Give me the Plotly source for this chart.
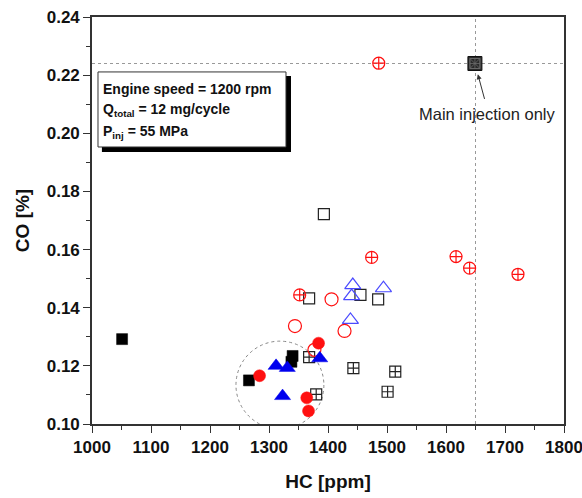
import plotly.graph_objects as go

# ---- data ----
filled_sq_x = [1051, 1266, 1340, 1338]
filled_sq_y = [0.1292, 0.1150, 0.1234, 0.1214]

filled_circ_x = [1284, 1384, 1364, 1367]
filled_circ_y = [0.1166, 0.1278, 0.1090, 0.1045]

filled_tri_x = [1312, 1331, 1323, 1386]
filled_tri_y = [0.1200, 0.1193, 0.1096, 0.1226]

open_sq_x = [1368, 1455, 1485, 1393]
open_sq_y = [0.1432, 0.1444, 0.1429, 0.1722]

cross_sq_x = [1368, 1443, 1514, 1501, 1380]
cross_sq_y = [0.1230, 0.1192, 0.1180, 0.1111, 0.1102]

open_circ_x = [1406, 1344, 1428, 1377]
open_circ_y = [0.1429, 0.1337, 0.1320, 0.1255]

cross_circ_x = [1352, 1474, 1617, 1640, 1722, 1486]
cross_circ_y = [0.1444, 0.1573, 0.1576, 0.1536, 0.1515, 0.2241]

open_tri_x = [1442, 1440, 1494, 1438]
open_tri_y = [0.1478, 0.1440, 0.1467, 0.1358]

main_x = [1649]
main_y = [0.2240]

x_ticks = [1000, 1100, 1200, 1300, 1400, 1500, 1600, 1700, 1800]
y_ticks = [0.10, 0.12, 0.14, 0.16, 0.18, 0.20, 0.22, 0.24]

FONT = "Liberation Sans, Arial, sans-serif"
RED = "#ff1010"
BLUE = "#0000ee"
LBLUE = "#4a4aff"

fig = go.Figure()

def add(x, y, symbol, color, size, lw=1.2, fill=None):
    fig.add_trace(go.Scatter(
        x=x, y=y, mode="markers", showlegend=False, cliponaxis=False,
        marker=dict(symbol=symbol, size=size, color=fill if fill else color,
                    line=dict(color=color, width=lw))))

add(open_sq_x, open_sq_y, "square-open", "#222222", 11)
add(cross_sq_x, cross_sq_y, "square-cross-open", "#222222", 11)
add(cross_circ_x, cross_circ_y, "circle-cross-open", RED, 12)
add(open_tri_x, open_tri_y, "triangle-up-open", LBLUE, 14)
add(filled_sq_x, filled_sq_y, "square", "#000000", 11, lw=0.5)
add(filled_circ_x, filled_circ_y, "circle", RED, 12, lw=0.5)
add(open_circ_x, open_circ_y, "circle-open", RED, 13)
add(filled_tri_x, filled_tri_y, "triangle-up", BLUE, 14, lw=0.5)
add(main_x, main_y, "square", "#111111", 14, lw=1, fill="#2a2a2a")
add(main_x, main_y, "square-x-open", "#6a6a6a", 10, lw=0.8)
add(main_x, main_y, "square-cross-open", "#6a6a6a", 10, lw=0.8)

shapes = [
    dict(type="line", xref="x", yref="paper", x0=1650, x1=1650, y0=0, y1=1,
         line=dict(color="#999999", width=1, dash="dot"), layer="below"),
    dict(type="line", xref="paper", yref="y", x0=0, x1=1, y0=0.224, y1=0.224,
         line=dict(color="#999999", width=1, dash="dot"), layer="below"),
    dict(type="circle", xref="x", yref="y", x0=1244, x1=1393, y0=0.0983, y1=0.1285,
         line=dict(color="#888888", width=1, dash="dot"), layer="below"),
    # text box with shadow
    dict(type="rect", xref="paper", yref="paper", x0=0.021, x1=0.4216, y0=0.668, y1=0.855,
         fillcolor="#000000", line=dict(width=0)),
    dict(type="rect", xref="paper", yref="paper", x0=0.0127, x1=0.411, y0=0.6806, y1=0.865,
         fillcolor="#ffffff", line=dict(color="#333333", width=1)),
]

annotations = [
    dict(xref="paper", yref="paper", x=0.02, y=0.822, xanchor="left", yanchor="middle",
         text="<b>Engine speed = 1200 rpm</b>", showarrow=False,
         font=dict(family=FONT, size=14, color="#111111")),
    dict(xref="paper", yref="paper", x=0.02, y=0.772, xanchor="left", yanchor="middle",
         text="<b>Q<sub>total</sub> = 12 mg/cycle</b>", showarrow=False,
         font=dict(family=FONT, size=14, color="#111111")),
    dict(xref="paper", yref="paper", x=0.02, y=0.717, xanchor="left", yanchor="middle",
         text="<b>P<sub>inj</sub> = 55 MPa</b>", showarrow=False,
         font=dict(family=FONT, size=14, color="#111111")),
    dict(x=1654, y=0.2203, ax=1666, ay=0.2113, xref="x", yref="y", axref="x", ayref="y",
         text="", showarrow=True, arrowhead=2, arrowsize=1, arrowwidth=1, arrowcolor="#333333"),
    dict(x=1670, y=0.2067, xref="x", yref="y", text="Main injection only", showarrow=False,
         font=dict(family=FONT, size=16.5, color="#222222")),
]

fig.update_layout(
    width=582, height=498,
    margin=dict(l=92, r=18, t=17, b=74, autoexpand=False),
    plot_bgcolor="white", paper_bgcolor="white",
    shapes=shapes, annotations=annotations,
    font=dict(family=FONT, color="#111111"),
)

fig.update_xaxes(
    range=[1000, 1800], tickvals=x_ticks, ticktext=[f"<b>{v}</b>" for v in x_ticks],
    ticks="outside", ticklen=7, tickwidth=1.3, tickcolor="#333333",
    minor=dict(dtick=50, ticks="outside", ticklen=4, tickcolor="#333333", tickwidth=1.2, showgrid=False),
    showline=True, linecolor="#333333", linewidth=1.6, mirror=True, showgrid=False, zeroline=False,
    tickfont=dict(family=FONT, size=17, color="#111111"), automargin=False,
    ticklabeloverflow="allow",
    title=dict(text="<b>HC [ppm]</b>", font=dict(family=FONT, size=19, color="#111111"), standoff=18),
)
fig.update_yaxes(
    range=[0.10, 0.24], tickvals=y_ticks, ticktext=[f"<b>{v:.2f}</b>" for v in y_ticks],
    ticks="outside", ticklen=7, tickwidth=1.3, tickcolor="#333333",
    minor=dict(dtick=0.01, ticks="outside", ticklen=4, tickcolor="#333333", tickwidth=1.2, showgrid=False),
    showline=True, linecolor="#333333", linewidth=1.6, mirror=True, showgrid=False, zeroline=False,
    tickfont=dict(family=FONT, size=17, color="#111111"), automargin=False,
    ticklabeloverflow="allow",
    title=dict(text="<b>CO [%]</b>", font=dict(family=FONT, size=19, color="#111111"), standoff=12),
)

fig.write_html("out.html", config={"displayModeBar": False},
               post_script="document.body.style.margin='0';")
